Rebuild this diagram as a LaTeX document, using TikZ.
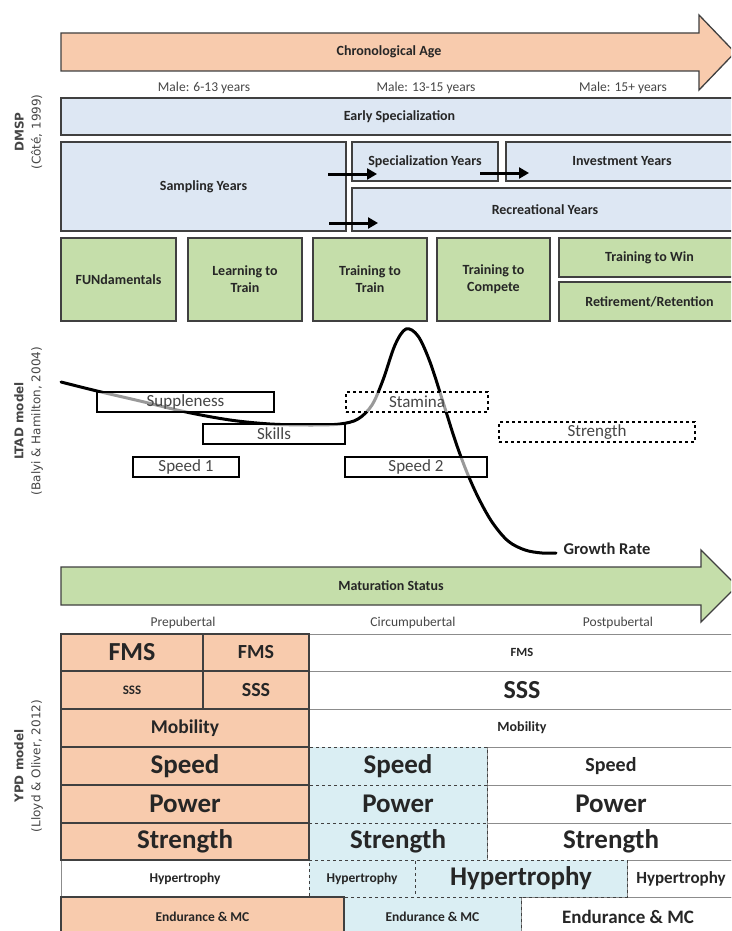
\documentclass[tikz,border=0pt]{standalone}
\usepackage{fontspec}
\setmainfont{Carlito}
\newfontfamily\labfont{DejaVu Sans}
\usetikzlibrary{arrows.meta}
\definecolor{peach}{RGB}{248,203,173}
\definecolor{lblue}{RGB}{221,231,243}
\definecolor{cyanb}{RGB}{218,238,243}
\definecolor{lgreen}{RGB}{197,222,170}
\definecolor{bord}{RGB}{64,64,64}
\definecolor{txt}{RGB}{38,38,38}
\definecolor{graytxt}{RGB}{70,70,70}
\definecolor{gline}{RGB}{140,140,140}
\tikzset{
  bx/.style={draw=bord, line width=1.3pt, inner sep=0pt, outer sep=0pt, text=txt, align=center},
  dbox/.style={bx, fill=lblue, font=\fontsize{14}{17}\selectfont\bfseries},
  gbox/.style={bx, fill=lgreen, font=\fontsize{14}{17}\selectfont\bfseries},
  lbox/.style={draw=black, line width=1.1pt, fill=white, fill opacity=0.6, text opacity=1, inner sep=0pt, text=graytxt, font=\fontsize{17}{19}\selectfont},
  ocell/.style={draw=bord, line width=1.3pt, fill=peach, inner sep=0pt, text=txt},
  bcell/.style={draw=bord, line width=0.8pt, dashed, fill=cyanb, inner sep=0pt, text=txt},
  wcell/.style={draw=gline, line width=0.8pt, fill=white, inner sep=0pt, text=txt},
  plain/.style={text=graytxt, font=\fontsize{13.5}{15}\selectfont},
  sidelab/.style={rotate=90, align=center, text=graytxt, font=\labfont\fontsize{12}{17}\selectfont},
  flow/.style={line width=3pt, -{Triangle[length=10pt,width=11pt]}},
}
\newcommand{\fs}[1]{\fontsize{#1}{#1}\selectfont\bfseries}
\begin{document}
\begin{tikzpicture}[x=1pt,y=-1pt]
\useasboundingbox (0,0) rectangle (731,931);
\clip (0,0) rectangle (731,931);
\fill[white] (0,0) rectangle (731,931);

% ---------- Chronological age arrow
\draw[bord, line width=1.3pt, fill=peach] (61,33) -- (699,33) -- (699,15) -- (735,52.5) -- (699,90) -- (699,71) -- (61,71) -- cycle;
\node[text=txt, font=\fontsize{14}{16}\selectfont\bfseries] (chrono) at (389,52) {Chronological Age};
\node[plain] (m1) at (204,88) {Male: 6-13 years};
\node[plain] (m2) at (426,88) {Male: 13-15 years};
\node[plain] (m3) at (623,88) {Male: 15+ years};

% ---------- DMSP
\node[sidelab] (dmsp) at (28.5,132) {\textbf{DMSP}\\(Côté, 1999)};
\node[dbox, minimum width=677pt, minimum height=37pt] (early) at (399.5,116.5) {Early Specialization};
\node[dbox, minimum width=285pt, minimum height=89pt] (samp) at (203.5,186.5) {Sampling Years};
\node[dbox, minimum width=146pt, minimum height=39pt] (spec) at (425,161.5) {Specialization Years};
\node[dbox, minimum width=232pt, minimum height=39pt] (inv) at (622,161.5) {Investment Years};
\node[dbox, minimum width=386pt, minimum height=43pt] (rec) at (545,209.5) {Recreational Years};
\coordinate (a1s) at (328,174);
\coordinate (a1e) at (377,174);
\coordinate (a2s) at (329,223);
\coordinate (a2e) at (378,223);
\coordinate (a3s) at (480,173);
\coordinate (a3e) at (529,173);
\draw[flow] (a1s) -- (a1e);
\draw[flow] (a2s) -- (a2e);
\draw[flow] (a3s) -- (a3e);

% ---------- LTAD stages
\node[gbox, minimum width=115pt, minimum height=83pt] (fun) at (118.5,279.5) {FUNdamentals};
\node[gbox, minimum width=114pt, minimum height=83pt] (l2t) at (245,279.5) {Learning to\\Train};
\node[gbox, minimum width=114pt, minimum height=83pt] (t2t) at (370,279.5) {Training to\\Train};
\node[gbox, minimum width=113pt, minimum height=83pt] (t2c) at (493.5,279.5) {Training to\\Compete};
\node[gbox, minimum width=181pt, minimum height=39pt] (win) at (649.5,257.5) {Training to Win};
\node[gbox, minimum width=181pt, minimum height=39pt] (ret) at (649.5,301.5) {Retirement/Retention};

% ---------- LTAD model
\node[sidelab] (ltad) at (28.5,421) {\textbf{LTAD model}\\(Balyi \& Hamilton, 2004)};
\draw[line width=3pt, line cap=round] plot[smooth, tension=0.55] coordinates {(61,382) (97,391) (140,401) (186,412) (230,420) (270,424) (310,425) (340,424) (358,419) (372,405) (383,380) (395,345) (406,329) (418,336) (430,362) (443,402) (455,440) (466,470) (478,497) (492,522) (508,541) (525,550) (542,553) (556,553)};
\node[text=txt, font=\fontsize{16.5}{18}\selectfont\bfseries, anchor=west] (growth) at (560,549) {Growth Rate};
\node[lbox, minimum width=177pt, minimum height=20pt] (supp) at (185.5,402) {Suppleness};
\node[lbox, minimum width=142pt, minimum height=20pt] (skills) at (274,434) {Skills};
\node[lbox, minimum width=106pt, minimum height=20pt] (spd1) at (186,467) {Speed 1};
\node[lbox, dashed, minimum width=142pt, minimum height=20pt] (stam) at (417,402) {Stamina};
\node[lbox, dashed, minimum width=196pt, minimum height=20pt] (stren) at (597,432) {Strength};
\node[lbox, minimum width=142pt, minimum height=20pt] (spd2) at (416,467) {Speed 2};

% ---------- Maturation arrow
\draw[bord, line width=1.3pt, fill=lgreen] (61,567) -- (701,567) -- (701,550) -- (737,586) -- (701,622) -- (701,605) -- (61,605) -- cycle;
\node[text=txt, font=\fontsize{14}{16}\selectfont\bfseries] (mat) at (391,586) {Maturation Status};
\node[plain] (pre) at (183,623) {Prepubertal};
\node[plain] (circ) at (413,623) {Circumpubertal};
\node[plain] (post) at (618,623) {Postpubertal};

% ---------- YPD model table
\node[sidelab] (ypd) at (28.5,766) {\textbf{YPD model}\\(Lloyd \& Oliver, 2012)};
% white cells
\node[wcell, minimum width=426pt, minimum height=37pt, font=\fs{12.5}] (fmsW) at (522,652.5) {FMS};
\node[wcell, minimum width=426pt, minimum height=38pt, font=\fs{26}] (sssW) at (522,690) {SSS};
\node[wcell, minimum width=426pt, minimum height=38pt, font=\fs{14}] (mobW) at (522,728) {Mobility};
\node[wcell, minimum width=248pt, minimum height=38pt, font=\fs{20}] (spdW) at (611,766) {Speed};
\node[wcell, minimum width=248pt, minimum height=38pt, font=\fs{27}] (powW) at (611,804) {Power};
\node[wcell, minimum width=248pt, minimum height=37pt, font=\fs{27}] (strW) at (611,841.5) {Strength};
\node[wcell, minimum width=108pt, minimum height=37pt, font=\fs{17}] (hypW) at (681,878.5) {Hypertrophy};
\node[wcell, minimum width=214pt, minimum height=40pt, font=\fs{19}] (endW) at (628,917) {Endurance \& MC};
\node[wcell, minimum width=248pt, minimum height=37pt, font=\fs{13.5}] (hypA) at (185,878.5) {Hypertrophy};
% blue cells
\node[bcell, minimum width=178pt, minimum height=38pt, font=\fs{27}] (spdB) at (398,766) {Speed};
\node[bcell, minimum width=178pt, minimum height=38pt, font=\fs{27}] (powB) at (398,804) {Power};
\node[bcell, minimum width=178pt, minimum height=37pt, font=\fs{27}] (strB) at (398,841.5) {Strength};
\node[bcell, minimum width=106pt, minimum height=37pt, font=\fs{13.5}] (hypB) at (362,878.5) {Hypertrophy};
\node[bcell, minimum width=212pt, minimum height=37pt, font=\fs{27}] (hypC) at (521,878.5) {Hypertrophy};
\node[bcell, minimum width=177pt, minimum height=40pt, font=\fs{13.5}] (endB) at (432.5,917) {Endurance \& MC};
% orange cells
\node[ocell, minimum width=142pt, minimum height=37pt, font=\fs{26}] (fmsA) at (132,652.5) {FMS};
\node[ocell, minimum width=106pt, minimum height=37pt, font=\fs{20}] (fmsB) at (256,652.5) {FMS};
\node[ocell, minimum width=142pt, minimum height=38pt, font=\fs{13}] (sssA) at (132,690) {SSS};
\node[ocell, minimum width=106pt, minimum height=38pt, font=\fs{20}] (sssB) at (256,690) {SSS};
\node[ocell, minimum width=248pt, minimum height=38pt, font=\fs{19.5}] (mobA) at (185,728) {Mobility};
\node[ocell, minimum width=248pt, minimum height=38pt, font=\fs{27}] (spdA) at (185,766) {Speed};
\node[ocell, minimum width=248pt, minimum height=38pt, font=\fs{27}] (powA) at (185,804) {Power};
\node[ocell, minimum width=248pt, minimum height=37pt, font=\fs{27}] (strA) at (185,841.5) {Strength};
\node[ocell, minimum width=283pt, minimum height=40pt, font=\fs{13.5}] (endA) at (202.5,917) {Endurance \& MC};
\end{tikzpicture}
\end{document}
